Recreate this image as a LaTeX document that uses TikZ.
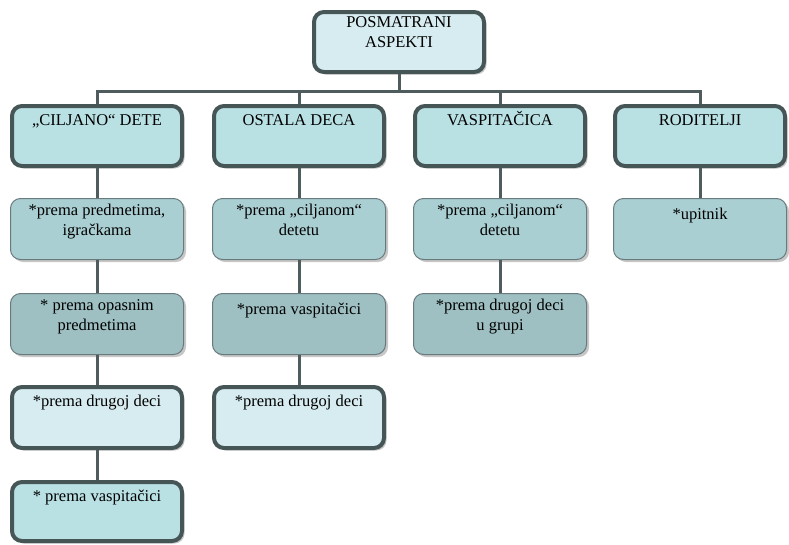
\documentclass[tikz,border=0pt]{standalone}
\usepackage{fontspec}
\setmainfont{Liberation Serif}
\usetikzlibrary{shadows}
\definecolor{bordc}{RGB}{70,85,85}
\definecolor{thinc}{RGB}{105,122,124}
\definecolor{connc}{RGB}{78,92,94}
\definecolor{fLight}{RGB}{214,236,240}
\definecolor{fOne}{RGB}{185,225,228}
\definecolor{fTwo}{RGB}{170,207,211}
\definecolor{fThree}{RGB}{158,192,194}
\tikzset{
  base/.style={rounded corners=10pt, inner sep=0pt,
    drop shadow={shadow xshift=2.5pt, shadow yshift=-2.5pt, opacity=0.22, fill=black}},
  thickbox/.style={base, draw=bordc, line width=4pt, minimum width=170pt},
  thinbox/.style={base, draw=thinc, line width=1pt, minimum width=173pt},
  txt/.style={anchor=north, inner sep=0pt, align=center, font=\fontsize{16.5}{20}\selectfont,
    execute at begin node={\rule{0pt}{15pt}}},
  conn/.style={draw=connc, line width=3pt}
}
\begin{document}
\begin{tikzpicture}[x=1pt,y=-1pt]
\useasboundingbox (0,0) rectangle (789,544);
% top
\node[thickbox, fill=fLight, minimum height=60pt] (top) at (399,42) {};
\node[txt] (topt) at ([yshift=-6pt]top.north) {POSMATRANI\\ASPEKTI};
% level 1
\node[thickbox, fill=fOne, minimum height=60pt] (c1) at (97,136) {};
\node[thickbox, fill=fOne, minimum height=60pt] (c2) at (299,136) {};
\node[thickbox, fill=fOne, minimum height=60pt] (c3) at (500,136) {};
\node[thickbox, fill=fOne, minimum height=60pt] (c4) at (700,136) {};
\node[txt] (c1t) at ([yshift=-6pt]c1.north) {„CILJANO“ DETE};
\node[txt] (c2t) at ([yshift=-6pt]c2.north) {OSTALA DECA};
\node[txt] (c3t) at ([yshift=-6pt]c3.north) {VASPITAČICA};
\node[txt] (c4t) at ([yshift=-6pt]c4.north) {RODITELJI};
% level 2
\node[thinbox, fill=fTwo, minimum height=61pt] (a2) at (97,229) {};
\node[thinbox, fill=fTwo, minimum height=61pt] (b2) at (299,229) {};
\node[thinbox, fill=fTwo, minimum height=61pt] (d2) at (500,229) {};
\node[thinbox, fill=fTwo, minimum height=61pt] (e2) at (700,229) {};
\node[txt] (a2t) at ([yshift=-6pt]a2.north) {*prema predmetima,\\igračkama};
\node[txt] (b2t) at ([yshift=-6pt]b2.north) {*prema „ciljanom“\\detetu};
\node[txt] (d2t) at ([yshift=-6pt]d2.north) {*prema „ciljanom“\\detetu};
\node[txt] (e2t) at ([yshift=-6pt]e2.north) {*upitnik};
% level 3
\node[thinbox, fill=fThree, minimum height=61pt] (a3) at (97,324) {};
\node[thinbox, fill=fThree, minimum height=61pt] (b3) at (299,324) {};
\node[thinbox, fill=fThree, minimum height=61pt] (d3) at (500,324) {};
\node[txt] (a3t) at ([yshift=-6pt]a3.north) {* prema opasnim\\predmetima};
\node[txt] (b3t) at ([yshift=-6pt]b3.north) {*prema vaspitačici};
\node[txt] (d3t) at ([yshift=-6pt]d3.north) {*prema drugoj deci\\u grupi};
% level 4
\node[thickbox, fill=fLight, minimum height=61pt] (a4) at (97,417.5) {};
\node[thickbox, fill=fLight, minimum height=61pt] (b4) at (299,417.5) {};
\node[txt] (a4t) at ([yshift=-6pt]a4.north) {*prema drugoj deci};
\node[txt] (b4t) at ([yshift=-6pt]b4.north) {*prema drugoj deci};
% level 5
\node[thickbox, fill=fOne, minimum height=59pt] (a5) at (97,511.5) {};
\node[txt] (a5t) at ([yshift=-6pt]a5.north) {* prema vaspitačici};
% connectors
\coordinate (bus) at (0,91);
\draw[conn] (top.south) -- (top.south |- bus);
\draw[conn] (c1.north) -- (c1.north |- bus) -- (c4.north |- bus) -- (c4.north);
\draw[conn] (c2.north) -- (c2.north |- bus);
\draw[conn] (c3.north) -- (c3.north |- bus);
\draw[conn] (c1.south) -- (a2.north);
\draw[conn] (a2.south) -- (a3.north);
\draw[conn] (a3.south) -- (a4.north);
\draw[conn] (a4.south) -- (a5.north);
\draw[conn] (c2.south) -- (b2.north);
\draw[conn] (b2.south) -- (b3.north);
\draw[conn] (b3.south) -- (b4.north);
\draw[conn] (c3.south) -- (d2.north);
\draw[conn] (d2.south) -- (d3.north);
\draw[conn] (c4.south) -- (e2.north);
\end{tikzpicture}
\end{document}
